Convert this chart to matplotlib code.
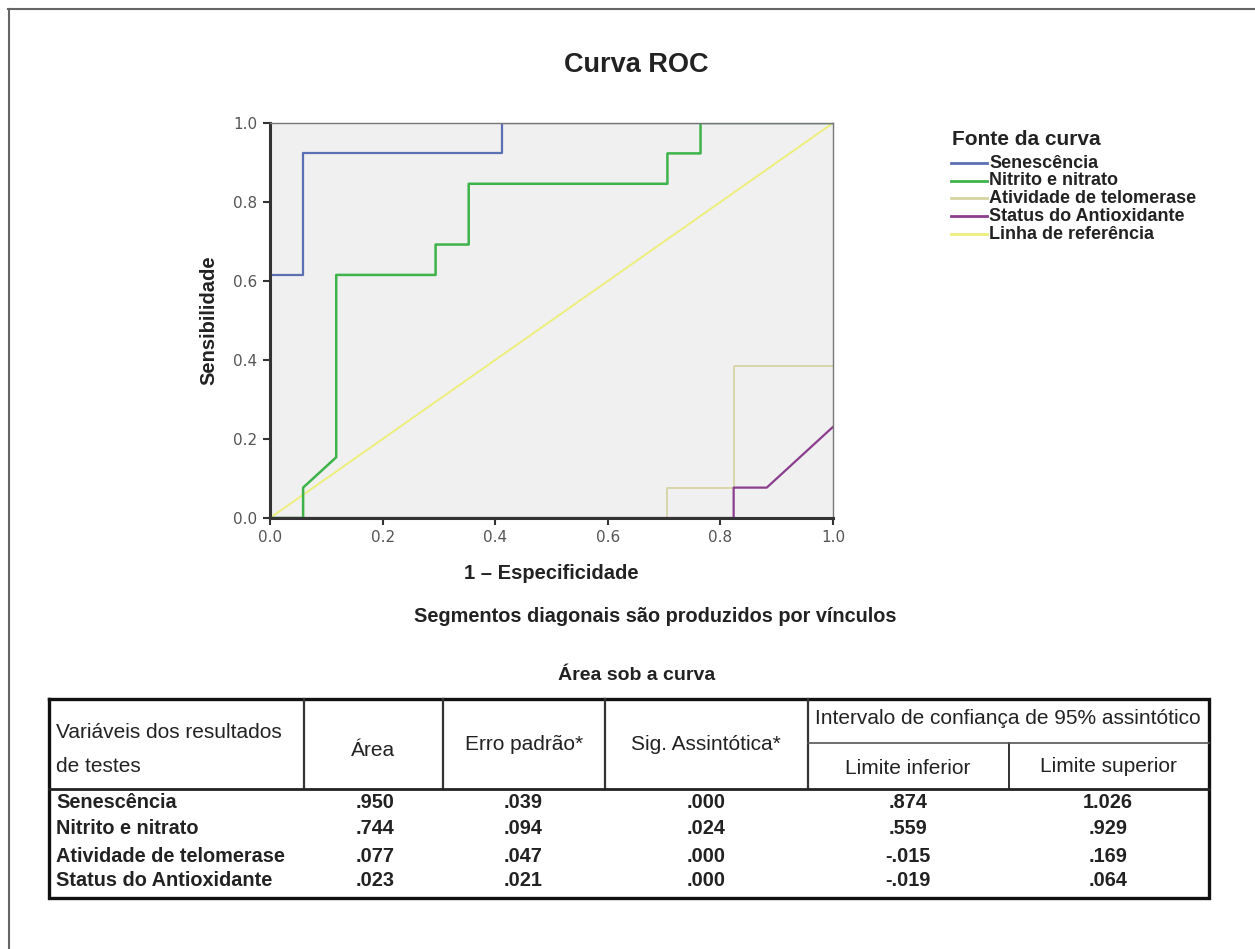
import matplotlib
matplotlib.use("Agg")
import matplotlib.pyplot as plt

plt.rcParams["font.family"] = ["Liberation Sans Narrow", "Liberation Sans", "DejaVu Sans"]

# ROC curve points (1 - especificidade, sensibilidade)
sen_x = [0, 0, 1/17, 1/17, 7/17, 7/17, 1]
sen_y = [0, 8/13, 8/13, 12/13, 12/13, 1, 1]

nit_x = [0, 1/17, 1/17, 2/17, 2/17, 5/17, 5/17, 6/17, 6/17, 12/17, 12/17, 13/17, 13/17, 1]
nit_y = [0, 0, 1/13, 2/13, 8/13, 8/13, 9/13, 9/13, 11/13, 11/13, 12/13, 12/13, 1, 1]

tel_x = [0, 12/17, 12/17, 14/17, 14/17, 1]
tel_y = [0, 0, 1/13, 1/13, 5/13, 5/13]

ant_x = [0, 14/17, 14/17, 15/17, 1]
ant_y = [0, 0, 1/13, 1/13, 3/13]

ref_x = [0, 1]
ref_y = [0, 1]

curve_names = ["Senescência", "Nitrito e nitrato", "Atividade de telomerase",
               "Status do Antioxidante", "Linha de referência"]
curve_colors = ["#5b6fb3", "#3db34a", "#d6d4a4", "#8b3d8e", "#eeee7c"]

# Table data
row_labels = ["Senescência", "Nitrito e nitrato", "Atividade de telomerase", "Status do Antioxidante"]
area = [".950", ".744", ".077", ".023"]
erro = [".039", ".094", ".047", ".021"]
sig = [".000", ".024", ".000", ".000"]
lim_inf = [".874", ".559", "-.015", "-.019"]
lim_sup = ["1.026", ".929", ".169", ".064"]

W, H = 1255, 949
fig = plt.figure(figsize=(W / 100, H / 100), dpi=100)

# ROC axes
ax = fig.add_axes([270 / W, 1 - 518 / H, (833 - 270) / W, (518 - 123) / H])
ax.set_facecolor("#f0f0f0")

ax.plot(ref_x, ref_y, color=curve_colors[4], lw=1.4, zorder=2)
ax.plot(tel_x, tel_y, color=curve_colors[2], lw=1.3, zorder=3)
ax.plot(ant_x, ant_y, color=curve_colors[3], lw=1.6, zorder=3)
ax.plot(nit_x, nit_y, color=curve_colors[1], lw=1.8, zorder=4)
ax.plot(sen_x, sen_y, color=curve_colors[0], lw=1.6, zorder=5)

ax.set_xlim(0, 1)
ax.set_ylim(0, 1)
ticks = [0.0, 0.2, 0.4, 0.6, 0.8, 1.0]
ax.set_xticks(ticks)
ax.set_yticks(ticks)
ax.set_xticklabels([f"{t:.1f}" for t in ticks], family="DejaVu Sans")
ax.set_yticklabels([f"{t:.1f}" for t in ticks], family="DejaVu Sans")
ax.tick_params(labelsize=11, labelcolor="#555555", color="#333333",
               length=5, width=1.5, direction="out", pad=4)

for side in ["left", "bottom"]:
    ax.spines[side].set_linewidth(2.2)
    ax.spines[side].set_color("#333333")
for side in ["top", "right"]:
    ax.spines[side].set_linewidth(1.0)
    ax.spines[side].set_color("#777777")
for sp in ax.spines.values():
    sp.set_zorder(6)

ax.set_xlabel("1 – Especificidade", fontsize=14.5, fontweight="bold", color="#222222", labelpad=13)
ax.set_ylabel("Sensibilidade", fontsize=14.5, fontweight="bold", color="#222222", labelpad=11)

# Overlay in pixel coordinates for texts, legend and table
ov = fig.add_axes([0, 0, 1, 1], zorder=-1)
ov.set_xlim(0, W)
ov.set_ylim(H, 0)
ov.axis("off")

ov.plot([8.5, 8.5], [9, H], color="#666666", lw=1.5)
ov.plot([8, W], [9, 9], color="#666666", lw=1.5)

ov.text(636, 65, "Curva ROC", fontsize=19.5, fontweight="bold", ha="center", va="center", color="#222222")
ov.text(655, 616, "Segmentos diagonais são produzidos por vínculos", fontsize=14.3,
        fontweight="bold", ha="center", va="center", color="#222222")
ov.text(637, 676, "Área sob a curva", fontsize=14, fontweight="bold",
        ha="center", va="center", color="#222222")

# Legend
ov.text(952, 139, "Fonte da curva", fontsize=15, fontweight="bold",
        ha="left", va="center", color="#222222")
leg_y = [163, 180.5, 198, 216, 234]
for name, col, y in zip(curve_names, curve_colors, leg_y):
    ov.plot([951, 987], [y, y], color=col, lw=2)
    ov.text(989, y, name, fontsize=13, fontweight="bold", ha="left", va="center", color="#222222")

# Table grid
L, R, T, B = 49, 1209, 699, 898
ov.plot([L, R, R, L, L], [T, T, B, B, T], color="#111111", lw=2.4, solid_joinstyle="miter")
for xv in [304, 443, 605, 808]:
    ov.plot([xv, xv], [T, 789], color="#333333", lw=1.6)
ov.plot([1009, 1009], [743, 789], color="#333333", lw=1.4)
ov.plot([808, R], [743, 743], color="#555555", lw=1.2)
ov.plot([L, R], [789, 789], color="#222222", lw=2.0)

tkw = dict(fontsize=15, color="#222222", va="center")
ov.text(56, 733, "Variáveis dos resultados", ha="left", **tkw)
ov.text(56, 766, "de testes", ha="left", **tkw)
ov.text(373, 750, "Área", ha="center", **tkw)
ov.text(524, 745, "Erro padrão*", ha="center", **tkw)
ov.text(706, 745, "Sig. Assintótica*", ha="center", **tkw)
ov.text(1008, 719, "Intervalo de confiança de 95% assintótico", ha="center", **tkw)
ov.text(908, 768, "Limite inferior", ha="center", **tkw)
ov.text(1108, 766, "Limite superior", ha="center", **tkw)

row_y = [803, 828, 857, 881]
dkw = dict(fontsize=14.3, fontweight="bold", color="#222222", va="center")
for i, y in enumerate(row_y):
    ov.text(56, y, row_labels[i], ha="left", **dkw)
    ov.text(375, y, area[i], ha="center", **dkw)
    ov.text(523, y, erro[i], ha="center", **dkw)
    ov.text(706, y, sig[i], ha="center", **dkw)
    ov.text(908, y, lim_inf[i], ha="center", **dkw)
    ov.text(1108, y, lim_sup[i], ha="center", **dkw)

fig.savefig("out.png", dpi=100, facecolor="white")
